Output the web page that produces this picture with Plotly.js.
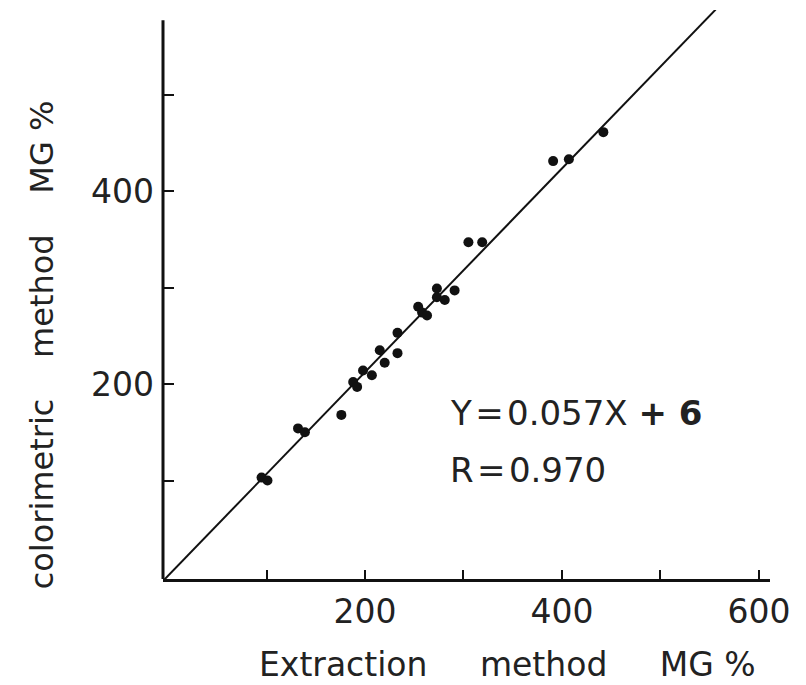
<!DOCTYPE html>
<html>
<head>
<meta charset="utf-8">
<script src="https://cdn.plot.ly/plotly-3.0.1.min.js"></script>
<style>html,body{margin:0;padding:0;background:#fff;}#chart{width:806px;height:685px;}</style>
</head>
<body>
<div id="chart"></div>
<script>
// Data (MG %)
const extraction   = [95, 101, 132, 139, 176, 188, 192, 198, 207, 215, 220, 233, 233, 254, 258, 263, 273, 273, 281, 291, 305, 319, 391, 407, 442];
const colorimetric = [103, 100, 154, 150, 168, 202, 197, 214, 209, 235, 222, 232, 253, 280, 274, 271, 299, 290, 287, 297, 347, 347, 431, 433, 461];

// Regression line end points
const fitX = [-4, 556];
const fitY = [-3, 588];

// Ticks
const xTickVals = [100, 200, 300, 400, 500, 600];
const xTickText = ['', '200', '', '400', '', '600'];
const yTickVals = [100, 200, 300, 400, 500];
const yTickText = ['', '200', '', '400', ''];

const xTitle = 'Extraction\u00a0\u00a0\u00a0\u00a0\u00a0method\u00a0\u00a0\u00a0\u00a0\u00a0MG %';
const yTitle = 'colorimetric\u00a0\u00a0\u00a0\u00a0method\u00a0\u00a0\u00a0\u00a0MG %';
const eqText = 'Y\u200a=\u200a0.057X <b>+ 6</b>';
const rText = 'R\u200a=\u200a0.970';

const ink = '#111';
const fontFam = '"DejaVu Sans", sans-serif';

const traces = [
  {
    x: fitX, y: fitY, type: 'scatter', mode: 'lines',
    line: {color: ink, width: 2}, hoverinfo: 'skip', showlegend: false
  },
  {
    x: extraction, y: colorimetric, type: 'scatter', mode: 'markers',
    marker: {color: ink, size: 10, symbol: 'circle'}, showlegend: false
  }
];

const layout = {
  width: 806, height: 685,
  margin: {l: 163, r: 36, t: 10, b: 106, pad: 0},
  paper_bgcolor: '#fff', plot_bgcolor: '#fff',
  showlegend: false,
  font: {family: fontFam, color: ink, size: 33},
  xaxis: {
    range: [-5.08, 611.2],
    showgrid: false, zeroline: false,
    showline: true, linecolor: ink, linewidth: 3,
    tickmode: 'array', tickvals: xTickVals, ticktext: xTickText,
    ticks: 'inside', ticklen: 9, tickwidth: 2, tickcolor: ink,
    ticklabelstandoff: 1,
    tickfont: {family: fontFam, size: 33, color: '#222'}
  },
  yaxis: {
    range: [-2.07, 587.6],
    showgrid: false, zeroline: false, showline: false,
    tickmode: 'array', tickvals: yTickVals, ticktext: yTickText,
    ticks: 'inside', ticklen: 11, tickwidth: 2, tickcolor: ink,
    ticklabelstandoff: 8,
    tickfont: {family: fontFam, size: 33, color: '#222'}
  },
  shapes: [
    {type: 'line', xref: 'paper', yref: 'y', x0: 0, x1: 0, y0: -2.07, y1: 577,
     line: {color: ink, width: 3}}
  ],
  annotations: [
    {xref: 'paper', yref: 'paper', x: 0.568, y: -0.151, xanchor: 'center', yanchor: 'middle',
     text: xTitle, showarrow: false, font: {family: fontFam, size: 33, color: '#222'}},
    {xref: 'paper', yref: 'paper', x: -0.199, y: 0.411, xanchor: 'center', yanchor: 'middle',
     text: yTitle, textangle: -90, showarrow: false, font: {family: fontFam, size: 32, color: '#222'}},
    {xref: 'paper', yref: 'paper', x: 0.4695, y: 0.2917, xanchor: 'left', yanchor: 'middle',
     text: eqText, showarrow: false, font: {family: fontFam, size: 34, color: '#222'}},
    {xref: 'paper', yref: 'paper', x: 0.4695, y: 0.1916, xanchor: 'left', yanchor: 'middle',
     text: rText, showarrow: false, font: {family: fontFam, size: 34, color: '#222'}}
  ]
};

Plotly.newPlot('chart', traces, layout, {displayModeBar: false, staticPlot: true});
</script>
</body>
</html>
